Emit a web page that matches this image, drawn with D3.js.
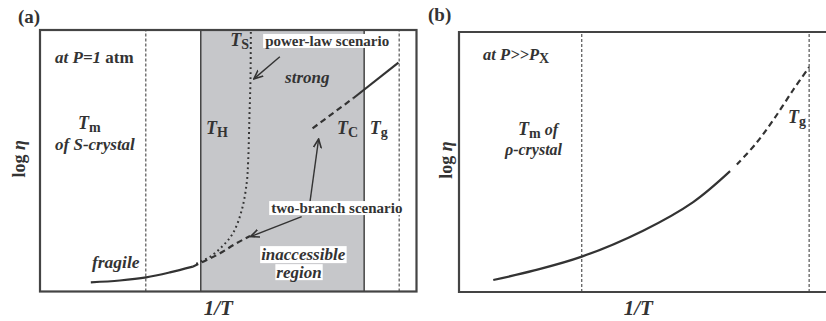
<!DOCTYPE html>
<html><head><meta charset="utf-8">
<script src="https://cdn.jsdelivr.net/npm/d3@7"></script>
<style>
body{margin:0;background:#fff;}
</style></head>
<body><svg id="c" width="826" height="321" font-family="'Liberation Serif', 'DejaVu Serif', serif" font-weight="bold" fill="#333"></svg>
<script>
// ---------- data (arbitrary units: 1/T on x, log eta on y, 0-100) ----------
const refLinesA = [28.1, 95.4];          // T_m (S-crystal), T_g dashed verticals
const inaccessibleA = [42.7, 86.1];      // T_H .. T_C grey band
const fragileSolid = [[13.5,3.5],[21.2,4.2],[28.2,5.4],[34.5,7.3],[40.6,9.5]];
const twoBranchLow = [[40.6,9.5],[42.5,10.8],[47.8,14.6],[52,18.3],[55.8,21.2]];
const powerLaw = [[41.5,10.6],[42.5,11.4],[45.2,13.3],[48.3,17.1],[51.3,22.4],[53.6,31.2],[54.9,41.5],[55.3,50.3],[55.6,65.6],[55.9,80.9],[56.0,99.2]];
const strongDashed = [[72.4,62.4],[83.2,73.9]];
const strongSolid = [[83.2,73.9],[95.2,87.5]];
const arrowsA = [
  [[63.7,89.8],[56.8,81.3]],
  [[71.7,34.2],[74.0,58.3]],
  [[69.5,28.6],[55.9,21.0]]
];
const refLinesB = [32.6, 93.0];          // T_m (rho-crystal), T_g
const curveBSolid = [[9.1,4.6],[20,8.3],[32.6,13.6],[48.9,23.6],[62.2,34.6],[72.0,46.5]];
const curveBDashed = [[73.8,49.0],[78.8,57.0],[83.5,66.2],[88.7,77.6],[93.0,86.5]];

const svg = d3.select("#c");
const ink = "#333";

const xA = d3.scaleLinear().domain([0,100]).range([40,416.5]);
const yA = d3.scaleLinear().domain([0,100]).range([291.5,30]);
const xB = d3.scaleLinear().domain([0,100]).range([459,835.5]);
const yB = d3.scaleLinear().domain([0,100]).range([292,32]);

svg.append("defs").append("marker").attr("id","arr")
  .attr("viewBox","0 0 10 10").attr("refX",9).attr("refY",5)
  .attr("markerWidth",10).attr("markerHeight",10).attr("markerUnits","userSpaceOnUse")
  .attr("orient","auto")
  .append("path").attr("d","M0,1 L9,5 L0,9").attr("fill","none").attr("stroke",ink).attr("stroke-width",1.6);

// rich text: segments [text, italic, sub, size]
function rich(g, x, y, segs, size, anchor){
  const t = g.append("text").attr("x",x).attr("y",y).attr("font-size",size).attr("text-anchor",anchor||"start");
  let dyPrev = 0;
  segs.forEach(s=>{
    const sp = t.append("tspan").text(s[0]).attr("font-style", s[1]?"italic":"normal");
    const dy = s[2] ? 3 : 0;
    if (dy !== dyPrev) sp.attr("dy", dy - dyPrev);
    dyPrev = dy;
    if (s[3]) sp.attr("font-size", s[3]);
  });
  return t;
}
function boxed(g, t, padX, padY){
  const b = t.node().getBBox();
  g.insert("rect", function(){return t.node();})
    .attr("x",b.x-padX).attr("y",b.y+padY).attr("width",b.width+2*padX).attr("height",b.height-2*padY)
    .attr("fill","#fff");
}

const line = (x,y)=>d3.line().x(d=>x(d[0])).y(d=>y(d[1])).curve(d3.curveMonotoneX);
const lineC = (x,y)=>d3.line().x(d=>x(d[0])).y(d=>y(d[1])).curve(d3.curveCatmullRom);

// ---------- panel (a) ----------
const ga = svg.append("g");
ga.append("rect").attr("x",xA(inaccessibleA[0])).attr("y",yA(100))
  .attr("width",xA(inaccessibleA[1])-xA(inaccessibleA[0])).attr("height",yA(0)-yA(100))
  .attr("fill","#c6c7ca");
ga.selectAll(".band").data(inaccessibleA).join("line")
  .attr("x1",d=>xA(d)).attr("x2",d=>xA(d)).attr("y1",yA(0)).attr("y2",yA(100))
  .attr("stroke","#444").attr("stroke-width",1.5);
ga.selectAll(".ref").data(refLinesA).join("line")
  .attr("x1",d=>xA(d)).attr("x2",d=>xA(d)).attr("y1",yA(0)).attr("y2",yA(100))
  .attr("stroke","#555").attr("stroke-width",1.2).attr("stroke-dasharray","3,2");

ga.append("path").attr("d",line(xA,yA)(fragileSolid)).attr("fill","none").attr("stroke",ink).attr("stroke-width",2.2);
ga.append("path").attr("d",line(xA,yA)(twoBranchLow)).attr("fill","none").attr("stroke",ink).attr("stroke-width",2.2).attr("stroke-dasharray","6,4");
ga.append("path").attr("d",lineC(xA,yA)(powerLaw)).attr("fill","none").attr("stroke",ink).attr("stroke-width",2).attr("stroke-dasharray","1.8,3.2");
ga.append("path").attr("d",line(xA,yA)(strongDashed)).attr("fill","none").attr("stroke",ink).attr("stroke-width",2.2).attr("stroke-dasharray","6,4");
ga.append("path").attr("d",line(xA,yA)(strongSolid)).attr("fill","none").attr("stroke",ink).attr("stroke-width",2.2);
arrowsA.forEach(a=>{
  ga.append("line").attr("x1",xA(a[0][0])).attr("y1",yA(a[0][1])).attr("x2",xA(a[1][0])).attr("y2",yA(a[1][1]))
    .attr("stroke",ink).attr("stroke-width",1.4).attr("marker-end","url(#arr)");
});
ga.append("rect").attr("x",xA(0)).attr("y",yA(100)).attr("width",xA(100)-xA(0)).attr("height",yA(0)-yA(100))
  .attr("fill","none").attr("stroke","#444").attr("stroke-width",2.2);

rich(ga, xA(4.0), yA(87.4), [["at P=1",true],[" atm",false]], 17);
rich(ga, xA(10.1), yA(62.0), [["T",true,false],["m",false,true,14]], 18);
rich(ga, xA(4.0), yA(54.3), [["of S-crystal",true]], 17);
rich(ga, xA(44.1), yA(60.2), [["T",true,false],["H",false,true,14]], 18);
rich(ga, xA(50.5), yA(94.0), [["T",true,false],["S",false,true,14]], 18);
rich(ga, xA(78.9), yA(60.2), [["T",true,false],["C",false,true,14]], 18);
rich(ga, xA(87.6), yA(60.2), [["T",true,false],["g",false,true,14]], 18);
rich(ga, xA(65.1), yA(79.7), [["strong",true]], 17);
rich(ga, xA(13.8), yA(9.0), [["fragile",true]], 17.5);
const pl = rich(ga, xA(59.8), yA(93.9), [["power-law scenario",false]], 15);
boxed(ga, pl, 2, 1);
const tb = rich(ga, xA(61.4), yA(30.0), [["two-branch scenario",false]], 15);
boxed(ga, tb, 2, 1);
const in1 = rich(ga, xA(69.9), yA(12.0), [["inaccessible",true]], 17, "middle");
boxed(ga, in1, 1, 1);
const in2 = rich(ga, xA(68.8), yA(5.3), [["region",true]], 17, "middle");
boxed(ga, in2, 1, 1.5);

rich(svg, 18, 23, [["(a)",false]], 19);
rich(svg, (xA(0)+xA(100))/2 - 10, 315, [["1/T",true]], 21, "middle");
svg.append("text").attr("transform",`translate(25,${(yA(0)+yA(100))/2 - 2}) rotate(-90)`).attr("text-anchor","middle").attr("font-size",18)
  .call(t=>{t.append("tspan").text("log ");t.append("tspan").text("η").attr("font-style","italic");});

// ---------- panel (b) ----------
const gb = svg.append("g");
gb.selectAll(".ref").data(refLinesB).join("line")
  .attr("x1",d=>xB(d)).attr("x2",d=>xB(d)).attr("y1",yB(0)).attr("y2",yB(100))
  .attr("stroke","#555").attr("stroke-width",1.2).attr("stroke-dasharray","3,2");
gb.append("path").attr("d",lineC(xB,yB)(curveBSolid)).attr("fill","none").attr("stroke",ink).attr("stroke-width",2.2);
gb.append("path").attr("d",lineC(xB,yB)(curveBDashed)).attr("fill","none").attr("stroke",ink).attr("stroke-width",2.2).attr("stroke-dasharray","6,4");
gb.append("path").attr("d",`M${xB(100)},${yB(100)}H${xB(0)}V${yB(0)}H${xB(100)}`)
  .attr("fill","none").attr("stroke","#444").attr("stroke-width",2.2);

rich(gb, xB(6.4), yB(89.2), [["at P>>P",true],["X",false,true,14]], 16.5);
rich(gb, xB(15.7), yB(60.2), [["T",true,false],["m",false,true,14],[" of",true,false,16]], 18);
rich(gb, xB(12.2), yB(52.7), [["ρ-crystal",true]], 16);
rich(gb, xB(87.4), yB(65.0), [["T",true,false],["g",false,true,14]], 18);

rich(svg, 428, 21, [["(b)",false]], 19);
rich(svg, (xB(0)+xB(100))/2 - 9, 315, [["1/T",true]], 21, "middle");
svg.append("text").attr("transform",`translate(452,${(yB(0)+yB(100))/2 - 2}) rotate(-90)`).attr("text-anchor","middle").attr("font-size",18)
  .call(t=>{t.append("tspan").text("log ");t.append("tspan").text("η").attr("font-style","italic");});
</script></body></html>
